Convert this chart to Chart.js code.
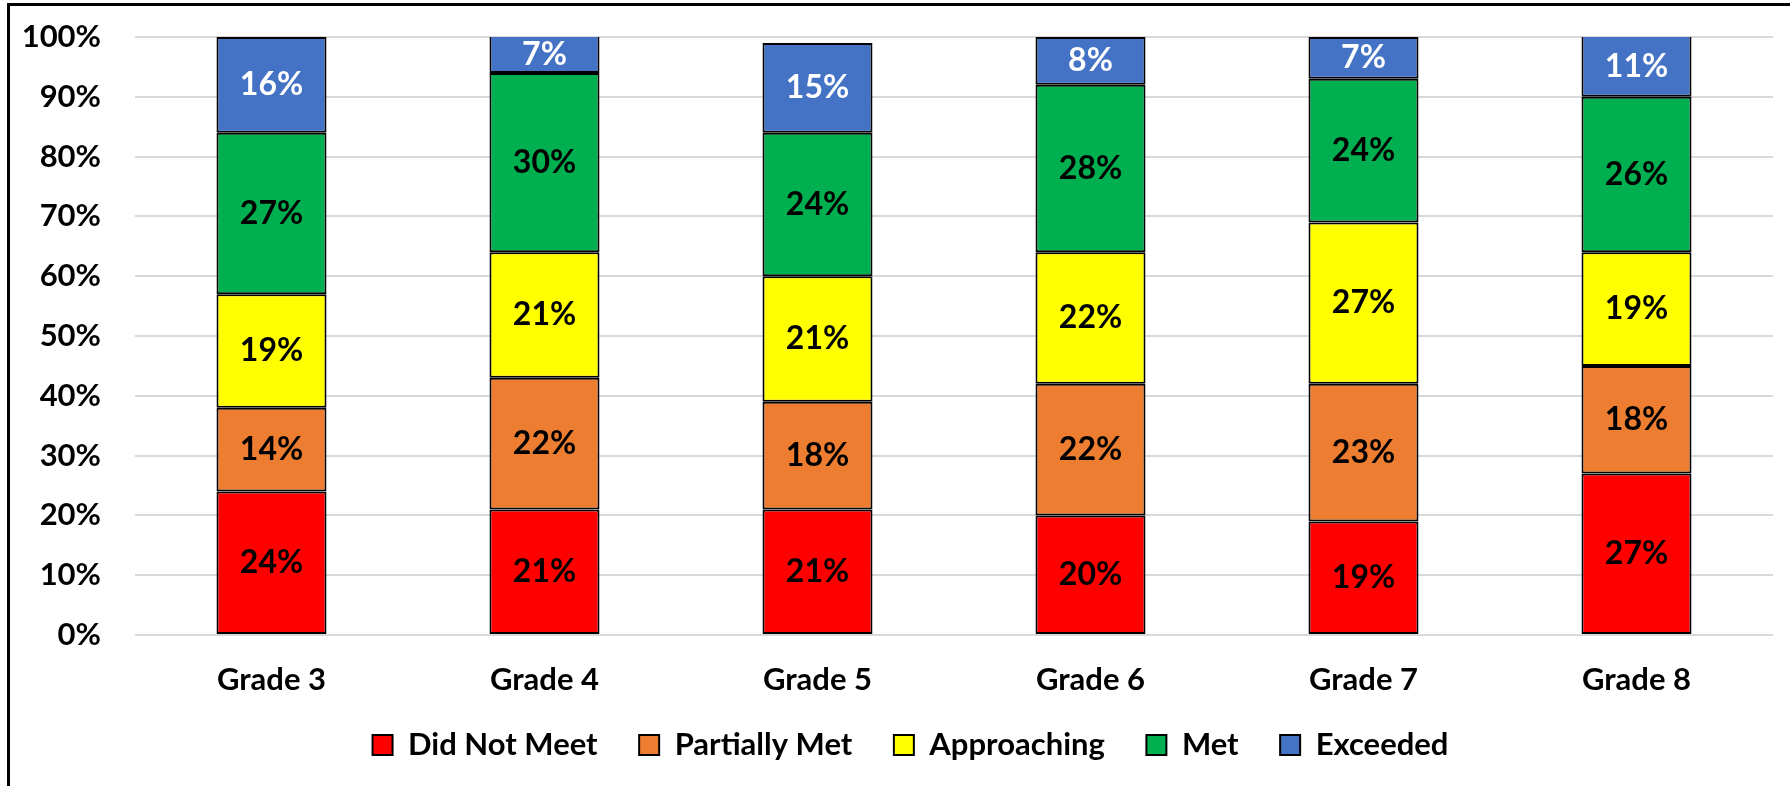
<!DOCTYPE html>
<html>
<head>
<meta charset="utf-8">
<script src="https://cdn.jsdelivr.net/npm/chart.js@4.4.1/dist/chart.umd.min.js"></script>
<style>
  html, body { margin: 0; padding: 0; background: #fff; }
  #wrap { position: relative; width: 1790px; height: 786px; overflow: hidden; }
  #frame { position: absolute; left: 7px; top: 3px; width: 1800px; height: 800px; border: 3px solid #000; box-sizing: border-box; }
  #c { position: absolute; left: 0; top: 0; }
</style>
</head>
<body>
<div id="wrap">
  <div id="frame"></div>
  <canvas id="c" width="1790" height="786"></canvas>
</div>
<script>
const categories = ['Grade 3', 'Grade 4', 'Grade 5', 'Grade 6', 'Grade 7', 'Grade 8'];
const seriesNames = ['Did Not Meet', 'Partially Met', 'Approaching', 'Met', 'Exceeded'];
const didNotMeet   = [24, 21, 21, 20, 19, 27];
const partiallyMet = [14, 22, 18, 22, 23, 18];
const approaching  = [19, 21, 21, 22, 27, 19];
const met          = [27, 30, 24, 28, 24, 26];
const exceeded     = [16, 7, 15, 8, 7, 11];
const yTicks = [0, 10, 20, 30, 40, 50, 60, 70, 80, 90, 100];

const seriesValues = [didNotMeet, partiallyMet, approaching, met, exceeded];
const colors = ['#FF0000', '#ED7D31', '#FFFF00', '#00B050', '#4472C4'];
const labelColors = ['#000000', '#000000', '#000000', '#000000', '#FFFFFF'];

Chart.defaults.font.family = 'Lato';
Chart.defaults.font.weight = 'bold';
Chart.defaults.font.size = 31;
Chart.defaults.color = '#000';

const segLabels = {
  id: 'segLabels',
  afterDatasetsDraw(chart) {
    const ctx = chart.ctx;
    const area = chart.chartArea;
    ctx.save();
    ctx.font = 'bold 32px Lato';
    ctx.textAlign = 'center';
    ctx.textBaseline = 'middle';
    chart.data.datasets.forEach((ds, di) => {
      const meta = chart.getDatasetMeta(di);
      meta.data.forEach((bar, i) => {
        const top = Math.max(Math.min(bar.y, bar.base), area.top);
        const bot = Math.min(Math.max(bar.y, bar.base), area.bottom);
        ctx.fillStyle = labelColors[di];
        ctx.fillText(ds.data[i] + '%', bar.x, (top + bot) / 2);
      });
    });
    ctx.restore();
  }
};

// centre the legend like the reference and let the x labels draw unclipped
const layoutTweak = {
  id: 'layoutTweak',
  afterLayout(chart) {
    const lg = chart.legend;
    if (lg) { lg.left = 48; lg.width = lg.right - lg.left; }
    const xs = chart.scales.x;
    if (xs) { xs.bottom = chart.height; }
  }
};

new Chart(document.getElementById('c'), {
  type: 'bar',
  data: {
    labels: categories,
    datasets: seriesNames.map((name, k) => ({
      label: name,
      data: seriesValues[k],
      backgroundColor: colors[k],
      borderColor: '#000',
      borderWidth: 2,
      borderSkipped: false,
      categoryPercentage: 0.403,
      barPercentage: 1,
      clip: 0
    }))
  },
  options: {
    responsive: false,
    animation: false,
    devicePixelRatio: 1,
    layout: { padding: { left: 0, right: 17, top: 37, bottom: 15.5 } },
    plugins: {
      tooltip: { enabled: false },
      legend: {
        position: 'bottom',
        labels: {
          boxWidth: 20,
          boxHeight: 20,
          padding: 41.5,
          font: { size: 31, weight: 'bold', family: 'Lato' },
          color: '#000'
        }
      }
    },
    scales: {
      x: {
        stacked: true,
        grid: { display: false, drawTicks: false },
        border: { display: false },
        ticks: { padding: 26, font: { size: 31, weight: 'bold' }, color: '#000' },
        afterFit(s) { s.height = 53; }
      },
      y: {
        stacked: true,
        min: 0,
        max: 100,
        afterBuildTicks(s) { s.ticks = yTicks.map(v => ({ value: v })); },
        grid: { color: '#D9D9D9', lineWidth: 2, drawTicks: false },
        border: { display: false },
        ticks: { padding: 34, callback: v => v + '%', font: { size: 31, weight: 'bold' }, color: '#000' },
        afterFit(s) { s.width = 135; s.paddingTop = 15; s.paddingBottom = 15; }
      }
    }
  },
  plugins: [segLabels, layoutTweak]
});
</script>
</body>
</html>
